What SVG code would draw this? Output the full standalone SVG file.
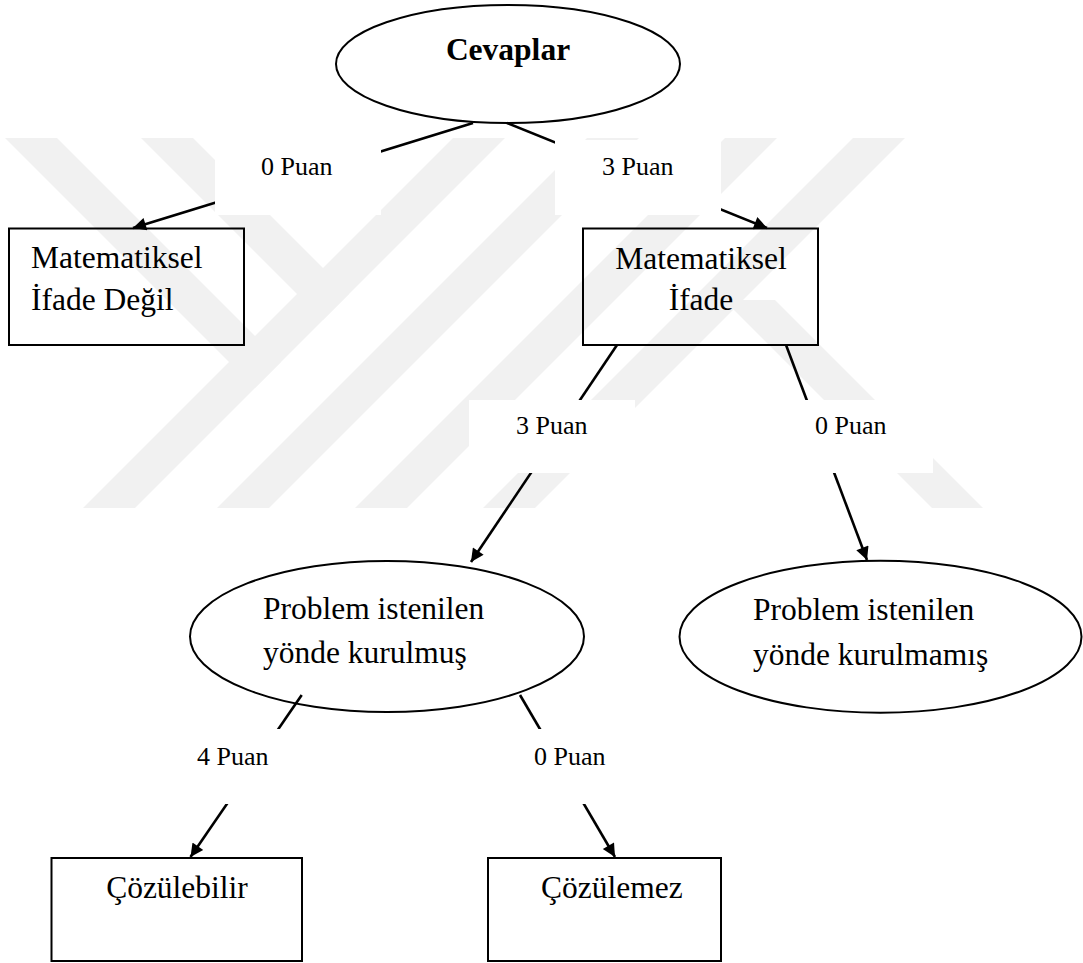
<svg xmlns="http://www.w3.org/2000/svg" width="1083" height="963" viewBox="0 0 1083 963">
<style>
.wm{fill:#f1f1f1;stroke:none}
.shape{fill:none;stroke:#000;stroke-width:2}
.conn{fill:none;stroke:#000;stroke-width:2.6}
.mask{fill:#fff;stroke:none}
.t{font-family:"Liberation Serif","Times New Roman",serif;font-size:31.5px;fill:#000}
.lbl{font-family:"Liberation Serif","Times New Roman",serif;font-size:26px;fill:#000}
.b{font-weight:bold}
.m{text-anchor:middle}
</style>
<defs>
<marker id="arr" viewBox="0 0 10 10" refX="10" refY="5" markerWidth="6.5" markerHeight="5" orient="auto" markerUnits="strokeWidth">
<path d="M0,0 L10,5 L0,10 z" fill="#000"/>
</marker>
</defs>
<rect width="1083" height="963" fill="#fff"/>
<g id="watermark">
<polygon class="wm" points="83,508 135,508 505,138 453,138"/>
<polygon class="wm" points="217,508 269,508 639,138 587,138"/>
<polygon class="wm" points="355,508 407,508 777,138 725,138"/>
<polygon class="wm" points="483,508 535,508 905,138 853,138"/>
<polygon class="wm" points="5,138 57,138 281,362 255,388"/>
<polygon class="wm" points="141,138 193,138 349,294 323,320"/>
<polygon class="wm" points="724,300 775,300 983,508 932,508"/>
</g>
<g id="connectors">
<line class="conn" x1="473" y1="123" x2="133" y2="228" marker-end="url(#arr)"/>
<line class="conn" x1="507" y1="123" x2="767" y2="228" marker-end="url(#arr)"/>
<line class="conn" x1="617" y1="345" x2="471" y2="562" marker-end="url(#arr)"/>
<line class="conn" x1="786" y1="345" x2="867" y2="560" marker-end="url(#arr)"/>
<line class="conn" x1="301.7" y1="695" x2="190.5" y2="857" marker-end="url(#arr)"/>
<line class="conn" x1="520" y1="695" x2="615" y2="857" marker-end="url(#arr)"/>
<rect class="mask" x="215" y="140" width="166" height="75"/>
<rect class="mask" x="555" y="140" width="166" height="75"/>
<rect class="mask" x="469" y="400" width="166" height="73"/>
<rect class="mask" x="767" y="400" width="166" height="73"/>
<rect class="mask" x="185" y="729" width="100" height="75"/>
<rect class="mask" x="525" y="729" width="100" height="75"/>
<text class="lbl" x="261" y="175">0 Puan</text>
<text class="lbl" x="602" y="175">3 Puan</text>
<text class="lbl" x="516" y="434">3 Puan</text>
<text class="lbl" x="815" y="434">0 Puan</text>
<text class="lbl" x="197" y="765">4 Puan</text>
<text class="lbl" x="534" y="765">0 Puan</text>
</g>
<g id="cevaplar">
<ellipse class="shape" cx="508" cy="64" rx="172" ry="59"/>
<text class="t b m" x="508" y="60">Cevaplar</text>
</g>
<g id="ifade-degil">
<rect class="shape" x="9" y="228.5" width="235" height="116.5"/>
<text class="t" x="31" y="268">Matematiksel</text>
<text class="t" x="31" y="310">İfade Değil</text>
</g>
<g id="ifade">
<rect class="shape" x="583" y="228.5" width="235" height="116.5"/>
<text class="t m" x="701" y="269">Matematiksel</text>
<text class="t m" x="701" y="310">İfade</text>
</g>
<g id="kurulmus">
<ellipse class="shape" cx="387" cy="636.5" rx="197" ry="75.5"/>
<text class="t" x="263" y="619">Problem istenilen</text>
<text class="t" x="263" y="663">yönde kurulmuş</text>
</g>
<g id="kurulmamis">
<ellipse class="shape" cx="880.5" cy="636.7" rx="201" ry="76"/>
<text class="t" x="753" y="620">Problem istenilen</text>
<text class="t" x="753" y="665">yönde kurulmamış</text>
</g>
<g id="cozulebilir">
<rect class="shape" x="51.5" y="858" width="250.5" height="103"/>
<text class="t m" x="177" y="898">Çözülebilir</text>
</g>
<g id="cozulemez">
<rect class="shape" x="488" y="858" width="233" height="103"/>
<text class="t" x="541" y="898">Çözülemez</text>
</g>
</svg>
